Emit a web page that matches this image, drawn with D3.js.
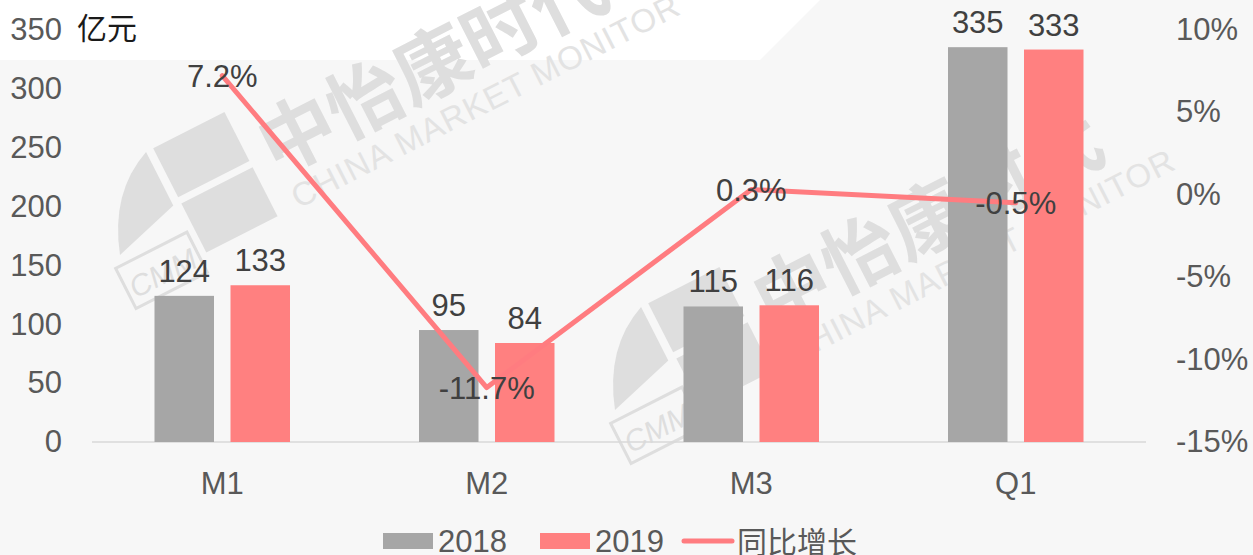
<!DOCTYPE html>
<html>
<head>
<meta charset="utf-8">
<script src="https://cdn.jsdelivr.net/npm/d3@7"></script>
<style>
  body { margin: 0; background: #fff; }
  svg { display: block; }
  text { font-family: Arial, "Liberation Sans", sans-serif; }
  .cjk { font-family: "Noto Sans CJK SC", sans-serif; }
</style>
</head>
<body>
<script>
// monthly sales, 2018 vs 2019, with year-on-year growth

const categories = ['M1', 'M2', 'M3', 'Q1'];
const sales2018 = [124, 95, 115, 335];
const sales2019 = [133, 84, 116, 333];
const growth = [7.2, -11.7, 0.3, -0.5];
const leftTicks = [0, 50, 100, 150, 200, 250, 300, 350];
const rightTicks = [-15, -10, -5, 0, 5, 10];

const width = 1253, height = 555;
const margin = { 'top': 29.5, 'bottom': 113, 'left': 90, 'right': 105 };
const fs = 31;

const svg = d3.select('body').append('svg')
    .attr('width', width)
    .attr('height', height);

// background
svg.append('rect').attr('width', width).attr('height', height).attr('fill', '#f7f7f7');
svg.append('path')
    .attr('d', 'M0,0 L820,0 L760,60 L0,60 Z')
    .attr('fill', '#ffffff');

// watermarks
function watermark(x, y) {
    let g = svg.append('g')
        .attr('transform', 'translate(' + x + ',' + y + ') rotate(-27)')
        .attr('fill', '#dedede');
    g.append('path').attr('d', 'M0,0 Q20,-60 70,-80 L70,-20 Z');
    g.append('rect').attr('x', 78).attr('y', -80).attr('width', 80).attr('height', 55);
    g.append('rect').attr('x', 78).attr('y', -18).attr('width', 80).attr('height', 55);
    g.append('rect').attr('x', -10).attr('y', 10).attr('width', 80).attr('height', 45)
        .attr('fill', 'none').attr('stroke', '#dedede').attr('stroke-width', 3);
    g.append('text').attr('x', 30).attr('y', 46).attr('text-anchor', 'middle')
        .attr('font-size', 30).attr('font-style', 'italic').text('CMM');
    g.append('text').attr('class', 'cjk').attr('x', 175).attr('y', 0)
        .attr('font-size', 76).attr('font-weight', 'bold').text('中怡康时代');
    g.append('text').attr('x', 180).attr('y', 40)
        .attr('fill', '#e3e3e3')
        .attr('font-size', 33).attr('letter-spacing', 1).text('CHINA MARKET MONITOR');
}
watermark(120, 255);
watermark(615, 410);

let x = d3.scaleBand()
    .domain(categories)
    .range([margin.left, width - margin.right]);

let yLeft = d3.scaleLinear()
    .domain([0, 350])
    .range([height - margin.bottom, margin.top]);

let yRight = d3.scaleLinear()
    .domain([-15, 10])
    .range([height - margin.bottom, margin.top]);

const barW = 59.5, offset = 38;

// left axis
svg.append('g')
    .attr('transform', 'translate(62,0)')
    .call(d3.axisLeft(yLeft).tickValues(leftTicks).tickSize(0).tickPadding(0))
    .call(g => g.select('.domain').remove())
    .selectAll('text')
    .attr('font-size', fs)
    .attr('fill', '#595959')
    .attr('font-family', 'Arial, "Liberation Sans", sans-serif');

// right axis
svg.append('g')
    .attr('transform', 'translate(1176,0)')
    .call(d3.axisRight(yRight).tickValues(rightTicks).tickSize(0).tickPadding(0).tickFormat(d => d + '%'))
    .call(g => g.select('.domain').remove())
    .selectAll('text')
    .attr('font-size', fs)
    .attr('fill', '#595959')
    .attr('font-family', 'Arial, "Liberation Sans", sans-serif');

// baseline
svg.append('line')
    .attr('x1', margin.left + 2).attr('x2', width - margin.right - 2)
    .attr('y1', yLeft(0)).attr('y2', yLeft(0))
    .attr('stroke', '#d9d9d9').attr('stroke-width', 1.5);

// category labels
svg.append('g')
    .selectAll('text')
    .data(categories)
    .enter()
    .append('text')
    .attr('x', d => x(d) + x.bandwidth() / 2)
    .attr('y', 494)
    .attr('text-anchor', 'middle')
    .attr('font-size', fs)
    .attr('fill', '#595959')
    .text(d => d);

// unit
svg.append('text')
    .attr('class', 'cjk')
    .attr('x', 77).attr('y', 39)
    .attr('font-size', 30)
    .attr('fill', '#1a1a1a')
    .text('亿元');

const series = [
    { 'name': '2018', 'values': sales2018, 'color': '#a6a6a6', 'dx': -offset },
    { 'name': '2019', 'values': sales2019, 'color': '#ff8080', 'dx': offset }
];

series.forEach(s => {
    let g = svg.append('g');
    g.selectAll('rect')
        .data(s.values)
        .enter()
        .append('rect')
        .attr('x', (d, i) => x(categories[i]) + x.bandwidth() / 2 + s.dx - barW / 2)
        .attr('y', d => yLeft(d))
        .attr('width', barW)
        .attr('height', d => yLeft(0) - yLeft(d))
        .attr('fill', s.color);
    g.selectAll('text')
        .data(s.values)
        .enter()
        .append('text')
        .attr('x', (d, i) => x(categories[i]) + x.bandwidth() / 2 + s.dx)
        .attr('y', d => yLeft(d) - 14)
        .attr('text-anchor', 'middle')
        .attr('font-size', fs)
        .attr('fill', '#404040')
        .text(d => d);
});

// growth line
let line = d3.line()
    .x((d, i) => x(categories[i]) + x.bandwidth() / 2)
    .y(d => yRight(d));

svg.append('path')
    .datum(growth)
    .attr('fill', 'none')
    .attr('stroke', '#ff7c80')
    .attr('stroke-width', 5)
    .attr('stroke-linejoin', 'round')
    .attr('stroke-linecap', 'round')
    .attr('d', line);

svg.append('g')
    .selectAll('text')
    .data(growth)
    .enter()
    .append('text')
    .attr('x', (d, i) => x(categories[i]) + x.bandwidth() / 2)
    .attr('y', d => yRight(d) + 11)
    .attr('text-anchor', 'middle')
    .attr('font-size', fs)
    .attr('fill', '#404040')
    .text(d => d.toFixed(1) + '%');

// legend
let legend = svg.append('g').attr('transform', 'translate(0,541)');
legend.append('rect').attr('x', 383).attr('y', -8).attr('width', 50).attr('height', 16).attr('fill', '#a6a6a6');
legend.append('text').attr('x', 438).attr('y', 11).attr('font-size', fs).attr('fill', '#595959').text('2018');
legend.append('rect').attr('x', 540).attr('y', -8).attr('width', 50).attr('height', 16).attr('fill', '#ff8080');
legend.append('text').attr('x', 595).attr('y', 11).attr('font-size', fs).attr('fill', '#595959').text('2019');
legend.append('line').attr('x1', 684).attr('x2', 732).attr('y1', 0).attr('y2', 0)
    .attr('stroke', '#ff7c80').attr('stroke-width', 5).attr('stroke-linecap', 'round');
legend.append('text').attr('class', 'cjk').attr('x', 737).attr('y', 12).attr('font-size', 30).attr('fill', '#595959').text('同比增长');
</script>
</body>
</html>
